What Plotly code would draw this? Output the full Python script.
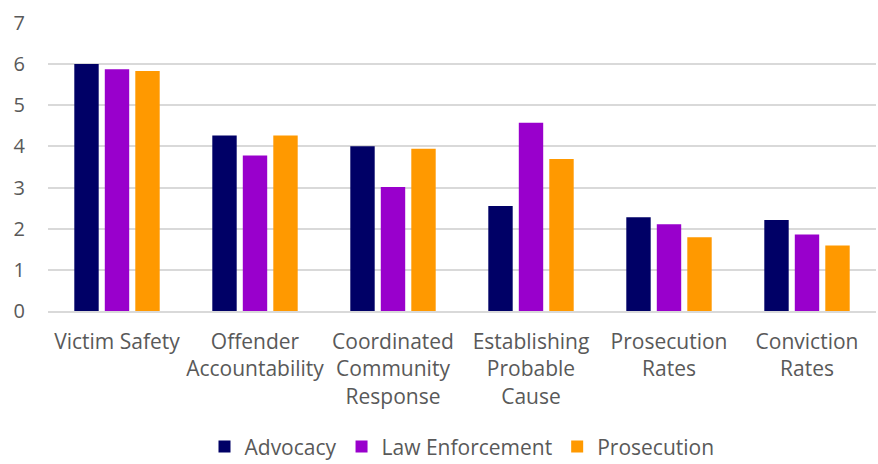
import plotly.graph_objects as go

categories = [
    "Victim Safety",
    "Offender<br>Accountability",
    "Coordinated<br>Community<br>Response",
    "Establishing<br>Probable<br>Cause",
    "Prosecution<br>Rates",
    "Conviction<br>Rates",
]
advocacy = [6.0, 4.26, 4.0, 2.55, 2.28, 2.21]
law_enforcement = [5.87, 3.78, 3.01, 4.57, 2.11, 1.86]
prosecution = [5.83, 4.26, 3.94, 3.69, 1.79, 1.59]

series = [
    ("Advocacy", advocacy, "#000066"),
    ("Law Enforcement", law_enforcement, "#9900CC"),
    ("Prosecution", prosecution, "#FF9900"),
]

fig = go.Figure()
for name, vals, color in series:
    fig.add_trace(go.Bar(
        x=categories, y=vals, name=name,
        marker=dict(color=color, line=dict(width=0)),
    ))

fig.update_layout(
    width=878, height=464,
    barmode="group", bargap=0.337, bargroupgap=0.2,
    paper_bgcolor="white", plot_bgcolor="white",
    font=dict(family="Open Sans, Noto Sans, sans-serif", size=21, color="#595959"),
    margin=dict(l=48, r=2, t=22, b=153, autoexpand=False),
    hovermode=False,
    legend=dict(orientation="h", x=0.5, xanchor="center", y=-0.47, yanchor="middle",
                font=dict(size=21), itemwidth=30, traceorder="normal"),
)
fig.update_yaxes(range=[0, 7.02], tickvals=[0, 1, 2, 3, 4, 5, 6, 7], showgrid=True,
                 gridcolor="#D9D9D9", gridwidth=1.5,
                 zeroline=False, showline=False, ticklabelstandoff=22, automargin=False,
                 tickfont=dict(size=20, color="#595959"))
fig.update_xaxes(showline=True, linecolor="#D9D9D9", linewidth=1.5, ticks="",
                 automargin=False, ticklabelstandoff=11,
                 tickfont=dict(size=21, color="#595959"), tickangle=0)

# drop the default 8px body margin so the figure fills the window exactly
fig.write_html("out.html", config={"displayModeBar": False},
               post_script="document.body.style.margin='0';")
